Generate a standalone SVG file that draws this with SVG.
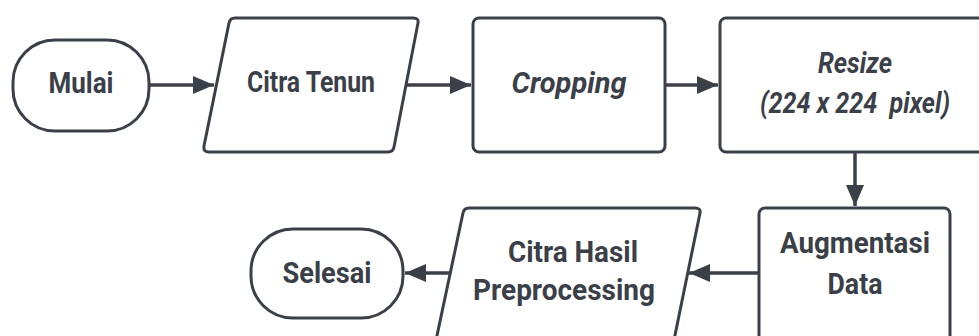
<svg xmlns="http://www.w3.org/2000/svg" width="979" height="336" viewBox="0 0 979 336">
<style>
.s{fill:#fff;stroke:#3b4048;stroke-width:3;stroke-linejoin:round}
.c{fill:none;stroke:#3b4048;stroke-width:3.5}
.t{font-family:Roboto,"Liberation Sans",sans-serif;font-size:29px;font-weight:700;fill:#3b4048;text-anchor:middle}
.i{font-style:italic}
</style>
<defs>
<marker id="a" markerUnits="userSpaceOnUse" markerWidth="22" markerHeight="20" refX="21" refY="9" orient="auto">
<path d="M0,0 L21,9 L0,18 Z" fill="#3b4048"/>
</marker>
</defs>
<rect width="979" height="336" fill="#fff"/>
<g id="connectors">
<line class="c" x1="150" y1="85" x2="214" y2="85" marker-end="url(#a)"/>
<line class="c" x1="406" y1="85" x2="471" y2="85" marker-end="url(#a)"/>
<line class="c" x1="666" y1="85" x2="718" y2="85" marker-end="url(#a)"/>
<line class="c" x1="855" y1="152" x2="855" y2="206" marker-end="url(#a)"/>
<line class="c" x1="759" y1="273" x2="689" y2="273" marker-end="url(#a)"/>
<line class="c" x1="449" y1="273" x2="405" y2="273" marker-end="url(#a)"/>
</g>
<g id="mulai">
<rect class="s" x="13" y="40" width="136" height="91" rx="42"/>
<text class="t" x="81" y="93" textLength="65" lengthAdjust="spacingAndGlyphs">Mulai</text>
</g>
<g id="citra-tenun">
<path class="s" d="M235,18 L413,18 Q419,18 418,23 L394,147 Q393,152 388,152 L209,152 Q203,152 204,146 L229,23 Q230,18 235,18 Z"/>
<text class="t" x="311" y="92" textLength="128" lengthAdjust="spacingAndGlyphs">Citra Tenun</text>
</g>
<g id="cropping">
<rect class="s" x="473" y="18" width="192" height="134" rx="6"/>
<text class="t i" x="569" y="93" textLength="115" lengthAdjust="spacingAndGlyphs">Cropping</text>
</g>
<g id="resize">
<rect class="s" x="720" y="18" width="270" height="134" rx="6"/>
<text class="t i" x="855" y="73" textLength="74" lengthAdjust="spacingAndGlyphs">Resize</text>
<text class="t i" x="855" y="113" textLength="190" lengthAdjust="spacingAndGlyphs" xml:space="preserve" style="white-space:pre">(224 x 224  pixel)</text>
</g>
<g id="augmentasi">
<rect class="s" x="759" y="208" width="191" height="140" rx="6"/>
<text class="t" x="855" y="253" textLength="150" lengthAdjust="spacingAndGlyphs">Augmentasi</text>
<text class="t" x="855" y="294" textLength="55" lengthAdjust="spacingAndGlyphs">Data</text>
</g>
<g id="citra-hasil">
<path class="s" d="M469,208 L695,208 Q701,208 700,213 L673,345 L435,345 L463,213 Q464,208 469,208 Z"/>
<text class="t" x="573" y="262" textLength="130" lengthAdjust="spacingAndGlyphs">Citra Hasil</text>
<text class="t" x="564" y="300" textLength="182" lengthAdjust="spacingAndGlyphs">Preprocessing</text>
</g>
<g id="selesai">
<rect class="s" x="251" y="229" width="152" height="89" rx="42"/>
<text class="t" x="327" y="283" textLength="89" lengthAdjust="spacingAndGlyphs">Selesai</text>
</g>
</svg>
